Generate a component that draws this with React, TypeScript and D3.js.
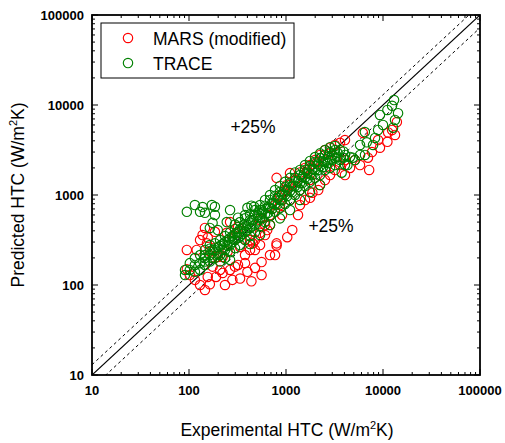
import React from "react";
import * as d3 from "d3";

const marsData: [number, number][] = [
  [95,245],[120,245],[130,316],[138,359],[153,290],[156,335],[164,235],[185,260],[198,205],[222,205],
  [250,235],[245,380],[265,500],[310,380],[320,440],[336,265],[426,245],[455,290],[540,380],[640,408],
  [146,430],[185,390],
  [298,160],[209,147],[175,160],[156,123],[130,100],[146,88],[164,102],[190,123],[222,136],[265,147],
  [320,167],[378,175],[235,100],[280,114],[336,118],[400,140],[479,155],[560,180],[684,215],[800,275],
  [115,114],[102,129],[95,150],[440,110],[560,129],[771,215],
  [479,316],[608,464],[684,599],[771,774],[867,1000],[977,1136],[1100,1292],[1239,1468],[1394,1780],
  [1570,2000],[1767,2154],[1990,2448],[2243,2783],[2523,3162],[2844,3350],[3200,3594],[3606,3800],[4055,4084],
  [800,1550],[1030,1300],[1100,1750],[1650,1896],[2100,2300],[2844,2900],
  [540,278],[800,290],[1030,340],[1330,599],[1160,408],[1767,930],[1870,1060],[1394,774],[1570,880],
  [2243,1292],[2523,1468],[2844,1668],[3200,1896],[3606,2154],[4055,2448],[2150,1136],[910,599],
  [684,464],[608,359],[479,245],[378,215],[426,316],[540,527],[867,774],[1100,880],[1394,1136],[1767,1468],
  [13900,6470],[12400,5275],[13300,4642],[11300,4950],[11100,3900],[8900,4084],[9300,3350],[7700,3000],
  [7000,2600],[7200,1896],[5140,2448],[4571,2000],[4055,1668],[5794,2154],[6200,4900]
];

const traceData: [number, number][] = [
  [95,650],[115,774],[130,650],[138,735],[146,635],[172,774],[185,740],[185,599],[265,681],[175,490],
  [198,408],[164,430],[245,500],[298,470],[320,560],[378,599],[400,720],[440,760],[470,740],[560,680],
  [91,147],[91,129],[102,147],[102,175],[115,167],[115,140],[115,199],[130,175],[130,147],[130,215],
  [146,199],[146,167],[146,245],[164,215],[164,182],[164,253],[164,278],[185,245],[185,199],[185,290],
  [209,272],[209,215],[209,316],[209,182],[235,300],[235,245],[235,350],[235,199],
  [265,330],[265,278],[265,385],[265,232],[265,190],[298,370],[298,316],[298,420],[298,257],
  [336,420],[336,345],[336,500],[336,278],[378,470],[378,390],[378,550],[378,316],
  [426,527],[426,430],[426,610],[426,350],[426,285],[479,599],[479,470],[479,681],[479,385],
  [540,681],[540,550],[540,774],[540,450],[540,359],[608,760],[608,610],[608,880],[608,500],
  [684,880],[684,715],[684,1000],[684,585],[684,464],[771,980],[771,795],[771,1136],[771,650],
  [867,1085],[867,880],[867,1260],[867,715],[867,550],[977,1230],[977,1000],[977,1400],[977,795],
  [1100,1360],[1100,1110],[1100,1550],[1100,880],[1100,681],[1239,1550],[1239,1260],[1239,1780],[1239,1000],
  [1394,1668],[1394,1360],[1394,1896],[1394,1136],[1394,880],[1570,1896],[1570,1550],[1570,2154],[1570,1260],
  [1767,2100],[1767,1700],[1767,2390],[1767,1400],[1767,1080],[1990,2330],[1990,1896],[1990,2640],[1990,1550],
  [2243,2570],[2243,2100],[2243,2900],[2243,1668],[2243,1292],[2523,2783],[2523,2330],[2523,3162],[2523,1896],
  [2844,3000],[2844,2448],[2844,3400],[2844,2000],[3200,3162],[3200,2570],[3200,3500],[3200,2154],
  [3606,3162],[3606,2448],[4055,2783],[4055,2154],
  [146,182],[146,215],[175,245],[175,200],[198,263],[198,220],[222,285],[222,245],[250,316],[250,272],
  [280,350],[280,300],[320,390],[320,335],[355,430],[355,370],[400,470],[400,408],[450,527],[450,450],
  [510,599],[510,510],[570,650],[570,555],[650,735],[650,630],[720,815],[720,700],[820,925],[820,790],
  [915,1020],[915,880],[1030,1136],[1030,975],[1160,1260],[1160,1080],[1320,1420],[1320,1230],
  [1470,1590],[1470,1360],[1670,1770],[1670,1510],[1870,1950],[1870,1668],[2140,2200],[2140,1896],
  [2400,2390],[2400,2040],[2700,2640],[2700,2260],[3000,2783],[3000,2448],[3400,2950],[3400,2650],
  [3900,3050],[3900,2600],
  [13000,11360],[12400,9800],[11100,8800],[14300,8100],[9300,7743],[13300,6813],[10000,6000],[8900,5275],
  [12700,5600],[8280,4300],[7900,3594],[5800,3594],[6500,5000],[5800,2783],[4900,2600],[4571,2650],
  [4300,2154],[3750,1770],[6800,3850],[6520,2783],[5140,2448]
];

const majorTicks = [10, 100, 1000, 10000, 100000];
const tickLabels = ["10", "100", "1000", "10000", "100000"];
const upperFactor = 1.3;
const lowerFactor = 0.72;

const W = 505, H = 443;
const L = 92, R = 480, T = 15, B = 375;
const RED = "#ff0000";
const GREEN = "#008000";

export default function App() {
  const x = d3.scaleLog().domain([10, 100000]).range([L, R]);
  const y = d3.scaleLog().domain([10, 100000]).range([B, T]);
  const minor: number[] = [];
  for (let e = 10; e < 100000; e *= 10) for (let k = 2; k <= 9; k++) minor.push(k * e);
  const font = "'Liberation Sans', Arial, sans-serif";

  const lineFn = (f: number) => {
    const pts: [number, number][] = [[10, 10 * f], [100000, 100000 * f]];
    return d3.line<[number, number]>().x((d) => x(d[0])).y((d) => y(d[1]))(pts) || "";
  };

  return (
    <svg width={W} height={H} style={{ position: "absolute", left: 0, top: 0, background: "#fff" }}>
      <defs>
        <clipPath id="plot">
          <rect x={L} y={T} width={R - L} height={B - T} />
        </clipPath>
      </defs>
      <rect x={0} y={0} width={W} height={H} fill="#fff" />
      <g clipPath="url(#plot)">
        <path d={lineFn(1)} stroke="#000" strokeWidth={1.2} fill="none" />
        <path d={lineFn(upperFactor)} stroke="#000" strokeWidth={1} strokeDasharray="3,3" fill="none" />
        <path d={lineFn(lowerFactor)} stroke="#000" strokeWidth={1} strokeDasharray="3,3" fill="none" />
        {marsData.map((d, i) => (
          <circle key={"m" + i} cx={x(d[0])} cy={y(d[1])} r={4.7} fill="none" stroke={RED} strokeWidth={1.15} />
        ))}
        {traceData.map((d, i) => (
          <circle key={"t" + i} cx={x(d[0])} cy={y(d[1])} r={4.7} fill="none" stroke={GREEN} strokeWidth={1.15} />
        ))}
      </g>
      <g stroke="#000" strokeWidth={1}>
        {majorTicks.map((t) => (
          <g key={"M" + t}>
            <line x1={x(t)} x2={x(t)} y1={B} y2={B - 6} />
            <line x1={x(t)} x2={x(t)} y1={T} y2={T + 6} />
            <line y1={y(t)} y2={y(t)} x1={L} x2={L + 6} />
            <line y1={y(t)} y2={y(t)} x1={R} x2={R - 6} />
          </g>
        ))}
        {minor.map((t) => (
          <g key={"m" + t}>
            <line x1={x(t)} x2={x(t)} y1={B} y2={B - 3} />
            <line x1={x(t)} x2={x(t)} y1={T} y2={T + 3} />
            <line y1={y(t)} y2={y(t)} x1={L} x2={L + 3} />
            <line y1={y(t)} y2={y(t)} x1={R} x2={R - 3} />
          </g>
        ))}
      </g>
      <rect x={L} y={T} width={R - L} height={B - T} fill="none" stroke="#000" strokeWidth={1.8} />
      {majorTicks.map((t, i) => (
        <text key={"xl" + t} x={x(t)} y={395} textAnchor="middle" fontFamily={font} fontWeight="bold" fontSize={13}>
          {tickLabels[i]}
        </text>
      ))}
      {majorTicks.map((t, i) => (
        <text key={"yl" + t} x={84} y={y(t) + 4.5} textAnchor="end" fontFamily={font} fontWeight="bold" fontSize={13}>
          {tickLabels[i]}
        </text>
      ))}
      <text x={287} y={436} textAnchor="middle" fontFamily={font} fontSize={17.5}>
        Experimental HTC (W/m<tspan dy={-7} fontSize={11}>2</tspan><tspan dy={7}>K)</tspan>
      </text>
      <text transform={`translate(24,195) rotate(-90)`} textAnchor="middle" fontFamily={font} fontSize={17.5}>
        Predicted HTC (W/m<tspan dy={-7} fontSize={11}>2</tspan><tspan dy={7}>K)</tspan>
      </text>
      <text x={253} y={133} textAnchor="middle" fontFamily={font} fontSize={17.5}>+25%</text>
      <text x={331} y={232} textAnchor="middle" fontFamily={font} fontSize={17.5}>+25%</text>
      <rect x={101} y={23} width={193} height={55} fill="#fff" stroke="#000" strokeWidth={1} />
      <circle cx={128} cy={38} r={4.7} fill="none" stroke={RED} strokeWidth={1.15} />
      <circle cx={128} cy={63} r={4.7} fill="none" stroke={GREEN} strokeWidth={1.15} />
      <text x={153} y={44.5} fontFamily={font} fontSize={17.5}>MARS (modified)</text>
      <text x={153} y={69.5} fontFamily={font} fontSize={17.5}>TRACE</text>
    </svg>
  );
}
